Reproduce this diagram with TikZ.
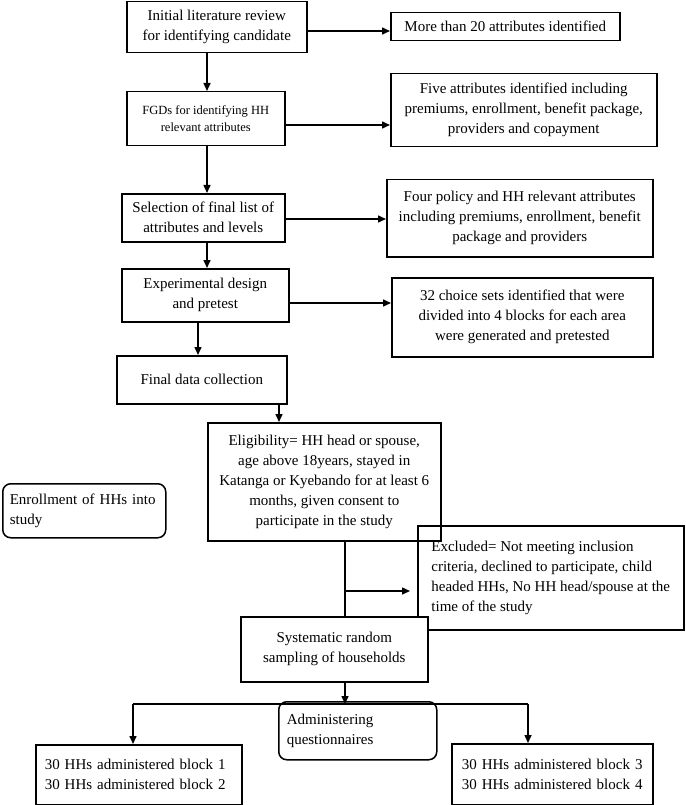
\documentclass[tikz,border=0pt]{standalone}
\usepackage{fontspec}
\setmainfont{Liberation Serif}
\usetikzlibrary{arrows.meta}
\begin{document}
\begin{tikzpicture}[x=1pt,y=-1pt,
  box/.style={draw, line width=1.5pt, inner sep=0pt, anchor=north west, align=center,
    font=\fontsize{15}{20}\selectfont},
  lbox/.style={box, align=left},
  rbox/.style={lbox, rounded corners=8pt},
  arr/.style={line width=1.5pt, -{Triangle[length=8pt,width=7pt]}},
  ln/.style={line width=1.5pt}]
\useasboundingbox (0,0) rectangle (685,805);
% main column
\node[box, minimum width=180pt, minimum height=51pt] (b1) at (126,1) {Initial literature review\\for identifying candidate};
\node[box, minimum width=229pt, minimum height=28pt] (r1) at (390,12) {More than 20 attributes identified};
\node[box, minimum width=158pt, minimum height=54pt, font=\fontsize{12.5}{17}\selectfont] (b2) at (126,91) {FGDs for identifying HH\\relevant attributes};
\node[box, minimum width=266pt, minimum height=73pt] (r2) at (390,73) {Five attributes identified including\\premiums, enrollment, benefit package,\\providers and copayment};
\node[box, minimum width=163pt, minimum height=48pt] (b3) at (121,193) {Selection of final list of\\attributes and levels};
\node[box, minimum width=266pt, minimum height=77pt] (r3) at (386,179) {Four policy and HH relevant attributes\\including premiums, enrollment, benefit\\package and providers};
\node[box, minimum width=167pt, minimum height=53pt] (b4) at (121,268) {Experimental design\\and pretest};
\node[box, minimum width=261pt, minimum height=79pt] (r4) at (391,277) {32 choice sets identified that were\\divided into 4 blocks for each area\\were generated and pretested};
\node[box, minimum width=170pt, minimum height=48pt] (b5) at (116,355) {Final data collection};
\node[box, minimum width=233pt, minimum height=118pt] (b6) at (207,422) {Eligibility= HH head or spouse,\\age above 18years, stayed in\\Katanga or Kyebando for at least 6\\months, given consent to\\participate in the study};
\node[rbox, text width=149pt, inner xsep=7pt, minimum height=54pt] (enr) at (2,483) {Enrollment of HHs into\\study};
\node[lbox, inner xsep=8pt, minimum width=266pt, minimum height=104pt] (excl) at (417,525) {Excluded= Not meeting inclusion\\criteria, declined to participate, child\\headed HHs, No HH head/spouse at the\\time of the study};
\node[box, fill=white, minimum width=187pt, minimum height=65pt] (sys) at (240,616) {Systematic random\\sampling of households};
\node[rbox, text width=142pt, inner xsep=8pt, minimum height=58pt] (adm) at (278,701) {Administering\\questionnaires};
\node[lbox, text width=188pt, inner xsep=9pt, minimum height=60pt] (bl) at (35,744) {30 HHs administered block 1\\30 HHs administered block 2};
\node[lbox, text width=181pt, inner xsep=10pt, minimum height=61pt] (br) at (451,743) {30 HHs administered block 3\\30 HHs administered block 4};
% connectors
\draw[arr] (b1.east |- 0,31) -- (r1.west |- 0,31);
\draw[arr] (b2.east |- 0,125) -- (r2.west |- 0,125);
\draw[arr] (b3.east |- 0,219) -- (r3.west |- 0,219);
\draw[arr] (b4.east |- 0,303) -- (r4.west |- 0,303);
\draw[arr] (b1.south -| 207,0) -- (b2.north -| 207,0);
\draw[arr] (b2.south -| 207,0) -- (b3.north -| 207,0);
\draw[arr] (b3.south -| 207,0) -- (b4.north -| 207,0);
\draw[arr] (b4.south -| 198,0) -- (b5.north -| 198,0);
\draw[arr] (b5.south -| 279,0) -- (b6.north -| 279,0);
\coordinate (split) at (345,591);
\coordinate (exend) at (410,591);
\coordinate (junc) at (345,704);
\coordinate (jl) at (133,704);
\coordinate (jr) at (528,704);
\draw[ln] (b6.south -| split) -- (sys.north -| split);
\draw[arr] (split) -- (exend);
\draw[arr] (sys.south -| junc) -- (junc);
\draw[ln] (jl) -- (jr);
\draw[arr] (jl) -- (bl.north -| jl);
\draw[arr] (jr) -- (br.north -| jr);
\end{tikzpicture}
\end{document}
